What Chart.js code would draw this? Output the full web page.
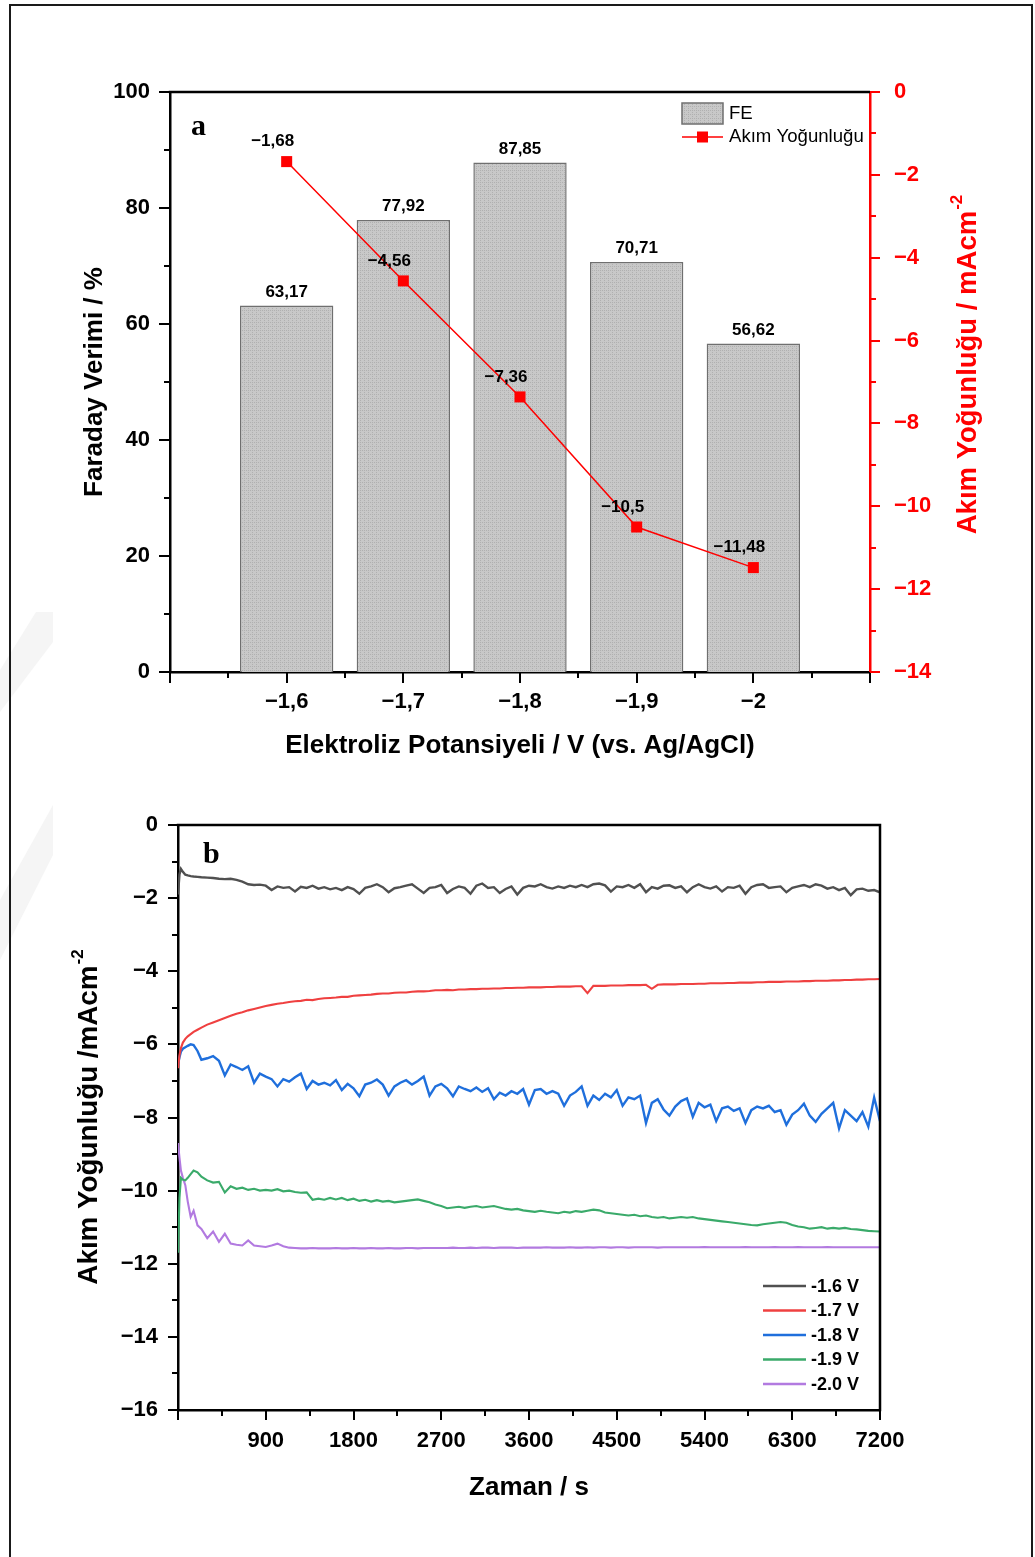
<!DOCTYPE html>
<html>
<head>
<meta charset="utf-8">
<title>Faraday verimi ve akım yoğunluğu</title>
<script src="https://cdn.jsdelivr.net/npm/chart.js@4.4.1/dist/chart.umd.min.js"></script>
<style>
  html, body { margin: 0; padding: 0; background: #fff; }
  body { width: 1035px; height: 1557px; position: relative; overflow: hidden; }
  #frame { position: absolute; left: 9px; top: 4px; width: 1020px; height: 1600px; border: 2px solid #1a1a1a; }
  #mark { position: absolute; left: 0; top: 600px; }
  canvas { position: absolute; left: 0; }
  #chartA { top: 0; }
  #chartB { top: 780px; }
</style>
</head>
<body>
<svg id="mark" width="60" height="380">
  <polygon points="36,12 53,12 53,42 0,112 0,70" fill="#f5f5f5"/>
  <polygon points="53,205 53,255 0,360 0,300" fill="#f5f5f5"/>
</svg>
<div id="frame"></div>
<canvas id="chartA" width="1035" height="780"></canvas>
<canvas id="chartB" width="1035" height="777"></canvas>

<script>
// ---- panel a: FE bars + current density line ----
const potentials = [-1.6, -1.7, -1.8, -1.9, -2.0];
const feValues = [63.17, 77.92, 87.85, 70.71, 56.62];
const jValues = [-1.68, -4.56, -7.36, -10.5, -11.48];

const aXTicks = [-1.5, -1.55, -1.6, -1.65, -1.7, -1.75, -1.8, -1.85, -1.9, -1.95, -2.0, -2.05, -2.1];
const aYTicks = [0, 10, 20, 30, 40, 50, 60, 70, 80, 90, 100];
const aY2Ticks = [0, -1, -2, -3, -4, -5, -6, -7, -8, -9, -10, -11, -12, -13, -14];

// ---- panel b: chronoamperometry ----
const seriesLabels = ['-1.6 V', '-1.7 V', '-1.8 V', '-1.9 V', '-2.0 V'];
const seriesColors = ['#505050', '#ef4040', '#1f6fdc', '#3aaa6a', '#b27ae0'];

const times = [
  0, 15, 30, 50, 75, 100, 130, 160, 200, 240,
  300, 360, 420, 480, 540, 600, 660, 720, 780, 840,
  900, 960, 1020, 1080, 1140, 1200, 1260, 1320, 1380, 1440,
  1500, 1560, 1620, 1680, 1740, 1800, 1860, 1920, 1980, 2040,
  2100, 2160, 2220, 2280, 2340, 2400, 2460, 2520, 2580, 2640,
  2700, 2760, 2820, 2880, 2940, 3000, 3060, 3120, 3180, 3240,
  3300, 3360, 3420, 3480, 3540, 3600, 3660, 3720, 3780, 3840,
  3900, 3960, 4020, 4080, 4140, 4200, 4260, 4320, 4380, 4440,
  4500, 4560, 4620, 4680, 4740, 4800, 4860, 4920, 4980, 5040,
  5100, 5160, 5220, 5280, 5340, 5400, 5460, 5520, 5580, 5640,
  5700, 5760, 5820, 5880, 5940, 6000, 6060, 6120, 6180, 6240,
  6300, 6360, 6420, 6480, 6540, 6600, 6660, 6720, 6780, 6840,
  6900, 6960, 7020, 7080, 7140, 7200
];

const j16 = [
  -1.90, -1.35, -1.20, -1.28, -1.36, -1.38, -1.40, -1.41, -1.42, -1.43,
  -1.44, -1.45, -1.47, -1.48, -1.47, -1.50, -1.55, -1.62, -1.64, -1.63,
  -1.66, -1.78, -1.68, -1.72, -1.70, -1.82, -1.69, -1.72, -1.66, -1.74,
  -1.70, -1.76, -1.72, -1.78, -1.70, -1.75, -1.88, -1.72, -1.68, -1.62,
  -1.70, -1.84, -1.73, -1.70, -1.66, -1.62, -1.74, -1.86, -1.72, -1.70,
  -1.64, -1.86, -1.75, -1.68, -1.72, -1.88, -1.66, -1.60, -1.72, -1.70,
  -1.86, -1.75, -1.68, -1.90, -1.72, -1.66, -1.68, -1.62, -1.70, -1.74,
  -1.68, -1.72, -1.66, -1.70, -1.64, -1.70, -1.62, -1.60, -1.65, -1.82,
  -1.68, -1.70, -1.64, -1.72, -1.62, -1.84, -1.70, -1.74, -1.66, -1.65,
  -1.72, -1.68, -1.84, -1.70, -1.62, -1.70, -1.74, -1.68, -1.82, -1.70,
  -1.72, -1.66, -1.88, -1.70, -1.64, -1.62, -1.72, -1.70, -1.68, -1.84,
  -1.72, -1.68, -1.64, -1.70, -1.62, -1.66, -1.74, -1.70, -1.78, -1.72,
  -1.92, -1.76, -1.74, -1.80, -1.78, -1.84
];

const j17 = [
  -6.65, -6.30, -6.10, -5.95, -5.85, -5.78, -5.72, -5.66, -5.60, -5.54,
  -5.46, -5.40, -5.34, -5.28, -5.22, -5.16, -5.12, -5.07, -5.03, -4.99,
  -4.95, -4.92, -4.89, -4.87, -4.84, -4.82, -4.81, -4.78, -4.79, -4.76,
  -4.74, -4.73, -4.72, -4.70, -4.70, -4.67, -4.66, -4.65, -4.64, -4.62,
  -4.61, -4.61, -4.59, -4.58, -4.58, -4.56, -4.55, -4.55, -4.54, -4.52,
  -4.52, -4.51, -4.52, -4.50, -4.50, -4.49, -4.49, -4.48, -4.48, -4.47,
  -4.47, -4.46, -4.46, -4.45, -4.45, -4.44, -4.44, -4.44, -4.43, -4.43,
  -4.42, -4.42, -4.42, -4.41, -4.41, -4.60, -4.40, -4.40, -4.40, -4.39,
  -4.39, -4.39, -4.38, -4.38, -4.38, -4.37, -4.48, -4.37, -4.36, -4.36,
  -4.36, -4.35, -4.35, -4.35, -4.34, -4.34, -4.33, -4.33, -4.33, -4.32,
  -4.32, -4.31, -4.31, -4.31, -4.30, -4.30, -4.29, -4.29, -4.29, -4.28,
  -4.28, -4.28, -4.27, -4.27, -4.26, -4.26, -4.26, -4.25, -4.25, -4.24,
  -4.24, -4.23, -4.23, -4.22, -4.22, -4.21
];

const j18 = [
  -6.55, -6.35, -6.20, -6.12, -6.08, -6.04, -6.00, -6.02, -6.18, -6.42,
  -6.38, -6.32, -6.45, -6.85, -6.55, -6.62, -6.70, -6.60, -7.05, -6.80,
  -6.88, -6.95, -7.15, -6.95, -7.02, -6.90, -6.80, -7.22, -7.00, -7.10,
  -7.05, -7.12, -6.98, -7.25, -7.08, -7.20, -7.42, -7.10, -7.05, -6.96,
  -7.10, -7.40, -7.15, -7.05, -6.98, -7.10, -7.00, -6.88, -7.40, -7.15,
  -7.08, -7.20, -7.42, -7.15, -7.22, -7.28, -7.18, -7.30, -7.20, -7.50,
  -7.32, -7.40, -7.28, -7.35, -7.22, -7.65, -7.25, -7.22, -7.35, -7.28,
  -7.35, -7.68, -7.40, -7.30, -7.15, -7.68, -7.40, -7.52, -7.35, -7.45,
  -7.25, -7.68, -7.45, -7.50, -7.40, -8.15, -7.60, -7.50, -7.78, -7.95,
  -7.70, -7.55, -7.48, -7.98, -7.60, -7.72, -7.65, -8.10, -7.75, -7.70,
  -7.82, -7.75, -8.15, -7.80, -7.70, -7.75, -7.68, -7.85, -7.80, -8.20,
  -7.92, -7.80, -7.62, -7.95, -8.12, -7.90, -7.75, -7.60, -8.30, -7.80,
  -7.95, -8.10, -7.85, -8.25, -7.45, -8.10
];

const j19 = [
  -11.70, -10.20, -9.65, -9.70, -9.72, -9.65, -9.55, -9.45, -9.50, -9.62,
  -9.72, -9.78, -9.76, -10.05, -9.88, -9.95, -9.92, -9.98, -9.95, -10.00,
  -9.98, -10.00, -9.96, -10.02, -10.00, -10.04, -10.06, -10.05, -10.25, -10.22,
  -10.25, -10.20, -10.24, -10.20, -10.26, -10.22, -10.28, -10.25, -10.30, -10.26,
  -10.30, -10.28, -10.32, -10.30, -10.28, -10.26, -10.24, -10.28, -10.32, -10.38,
  -10.42, -10.48, -10.46, -10.44, -10.47, -10.44, -10.42, -10.46, -10.44, -10.42,
  -10.46, -10.50, -10.52, -10.50, -10.54, -10.56, -10.58, -10.55, -10.58, -10.60,
  -10.62, -10.58, -10.60, -10.56, -10.58, -10.55, -10.52, -10.54, -10.60, -10.62,
  -10.64, -10.66, -10.68, -10.66, -10.70, -10.68, -10.72, -10.74, -10.72, -10.76,
  -10.74, -10.72, -10.74, -10.72, -10.76, -10.78, -10.80, -10.82, -10.84, -10.86,
  -10.88, -10.90, -10.92, -10.94, -10.95, -10.92, -10.90, -10.88, -10.86, -10.88,
  -10.94, -10.98, -11.00, -11.04, -11.02, -11.00, -11.04, -11.02, -11.04, -11.02,
  -11.05, -11.06, -11.08, -11.10, -11.11, -11.12
];

const j20 = [
  -8.70, -9.10, -9.45, -9.65, -9.85, -10.30, -10.72, -10.55, -10.95, -11.05,
  -11.30, -11.12, -11.40, -11.18, -11.45, -11.48, -11.50, -11.36, -11.50, -11.52,
  -11.54, -11.50, -11.45, -11.52, -11.56, -11.57, -11.58, -11.58, -11.57, -11.58,
  -11.58, -11.58, -11.57, -11.58, -11.58, -11.57, -11.58, -11.58, -11.57, -11.58,
  -11.58, -11.57, -11.58, -11.58, -11.57, -11.57, -11.58, -11.57, -11.57, -11.57,
  -11.57, -11.57, -11.56, -11.57, -11.57, -11.56, -11.57, -11.56, -11.56, -11.57,
  -11.56, -11.56, -11.56, -11.57, -11.56, -11.56, -11.56, -11.56, -11.55, -11.56,
  -11.56, -11.56, -11.55, -11.56, -11.56, -11.55, -11.56, -11.55, -11.55, -11.56,
  -11.55, -11.55, -11.56, -11.55, -11.55, -11.55, -11.55, -11.56, -11.55, -11.55,
  -11.55, -11.55, -11.55, -11.55, -11.55, -11.54, -11.55, -11.55, -11.55, -11.55,
  -11.55, -11.55, -11.54, -11.55, -11.55, -11.55, -11.55, -11.54, -11.55, -11.55,
  -11.55, -11.54, -11.55, -11.55, -11.55, -11.55, -11.54, -11.55, -11.55, -11.55,
  -11.55, -11.55, -11.55, -11.55, -11.55, -11.55
];

const seriesValues = [j16, j17, j18, j19, j20];
const bXTicks = [0, 450, 900, 1350, 1800, 2250, 2700, 3150, 3600, 4050, 4500, 4950, 5400, 5850, 6300, 6750, 7200];
const bYTicks = [0, -1, -2, -3, -4, -5, -6, -7, -8, -9, -10, -11, -12, -13, -14, -15, -16];

const FONT = "'Liberation Sans', Arial, Helvetica, sans-serif";
const SERIF = "'Liberation Serif', 'Times New Roman', serif";
const MINUS = '\u2212';

Chart.defaults.font.family = FONT;
Chart.defaults.color = '#000';

// decimal comma + true minus sign
function fmtValue(v) {
  const s = String(Math.abs(v)).replace('.', ',');
  return v < 0 ? MINUS + s : s;
}

function fmtTick(v) {
  const r = Math.round(v * 10) / 10;
  return fmtValue(r);
}

// dotted grey fill used for the FE bars
function makeBarPattern() {
  const c = document.createElement('canvas');
  c.width = 4; c.height = 4;
  const g = c.getContext('2d');
  g.fillStyle = '#c8c8c8';
  g.fillRect(0, 0, 4, 4);
  g.fillStyle = '#b0b0b0';
  g.fillRect(0, 0, 1, 1);
  g.fillRect(2, 2, 1, 1);
  g.fillRect(0, 2, 1, 1);
  return g.createPattern(c, 'repeat');
}

// outward tick marks, majors longer than minors
function tickMarks(ctx, scale, values, isMajor, major, minor, color, side) {
  ctx.save();
  ctx.strokeStyle = color;
  ctx.lineWidth = 2;
  ctx.beginPath();
  values.forEach(v => {
    const len = isMajor(v) ? major : minor;
    const p = Math.round(scale.getPixelForValue(v));
    if (side === 'bottom') {
      ctx.moveTo(p, scale.top); ctx.lineTo(p, scale.top + len);
    } else if (side === 'left') {
      ctx.moveTo(scale.right, p); ctx.lineTo(scale.right - len, p);
    } else {
      ctx.moveTo(scale.left, p); ctx.lineTo(scale.left + len, p);
    }
  });
  ctx.stroke();
  ctx.restore();
}

// vertical axis title reading bottom-to-top, with a raised exponent
function rotatedTitle(ctx, cx, cy, text, sup, color, size) {
  ctx.save();
  ctx.translate(cx, cy);
  ctx.rotate(-Math.PI / 2);
  ctx.fillStyle = color;
  ctx.textBaseline = 'middle';
  ctx.textAlign = 'left';
  const big = `bold ${size}px ${FONT}`;
  const small = `bold ${Math.round(size * 0.62)}px ${FONT}`;
  ctx.font = big;
  const w1 = ctx.measureText(text).width;
  ctx.font = small;
  const w2 = ctx.measureText(sup).width;
  const x0 = -(w1 + w2) / 2;
  ctx.font = big;
  ctx.fillText(text, x0, 0);
  ctx.font = small;
  ctx.fillText(sup, x0 + w1 + 1, -size * 0.38);
  ctx.restore();
}

const fePattern = makeBarPattern();

const panelA = {
  id: 'panelA',
  afterDatasetsDraw(chart) {
    const ctx = chart.ctx;
    ctx.save();
    ctx.fillStyle = '#000';
    ctx.textAlign = 'center';
    ctx.font = `bold 17px ${FONT}`;
    ctx.textBaseline = 'bottom';
    chart.getDatasetMeta(0).data.forEach((bar, i) => {
      ctx.fillText(fmtValue(feValues[i]), bar.x, bar.y - 5);
    });
    ctx.textBaseline = 'middle';
    chart.getDatasetMeta(1).data.forEach((pt, i) => {
      ctx.fillText(fmtValue(jValues[i]), pt.x - 14, pt.y - 20);
    });
    ctx.restore();
  },
  afterDraw(chart) {
    const { ctx, chartArea: a, scales } = chart;
    ctx.save();
    ctx.strokeStyle = '#000';
    ctx.lineWidth = 2.5;
    ctx.beginPath();
    ctx.moveTo(a.left - 1.25, a.top);
    ctx.lineTo(a.right, a.top);
    ctx.stroke();
    ctx.restore();

    tickMarks(ctx, scales.x, aXTicks, v => Math.abs(Math.round(v * 10) - v * 10) < 1e-6, 11, 6, '#000', 'bottom');
    tickMarks(ctx, scales.y, aYTicks, v => v % 20 === 0, 11, 6, '#000', 'left');
    tickMarks(ctx, scales.y2, aY2Ticks, v => v % 2 === 0, 10, 6, '#ff0000', 'right');

    ctx.save();
    ctx.fillStyle = '#000';
    ctx.font = `bold 30px ${SERIF}`;
    ctx.textAlign = 'left';
    ctx.textBaseline = 'alphabetic';
    ctx.fillText('a', a.left + 21, a.top + 43);

    // legend
    const lx = a.right - 188, ly = a.top + 11;
    ctx.fillStyle = fePattern;
    ctx.fillRect(lx, ly, 41, 21);
    ctx.strokeStyle = '#6f6f6f';
    ctx.lineWidth = 1.5;
    ctx.strokeRect(lx, ly, 41, 21);
    ctx.fillStyle = '#000';
    ctx.font = `18.6px ${FONT}`;
    ctx.textBaseline = 'middle';
    ctx.fillText(chart.data.datasets[0].label, lx + 47, ly + 11);
    ctx.strokeStyle = '#ff0000';
    ctx.beginPath();
    ctx.moveTo(lx, ly + 34);
    ctx.lineTo(lx + 41, ly + 34);
    ctx.stroke();
    ctx.fillStyle = '#ff0000';
    ctx.fillRect(lx + 15, ly + 28.5, 11, 11);
    ctx.fillStyle = '#000';
    ctx.fillText(chart.data.datasets[1].label, lx + 47, ly + 34);
    ctx.restore();

    rotatedTitle(ctx, scales.y2.right - 67, 365, 'Akım Yoğunluğu / mAcm', '-2', '#ff0000', 27.5);
  }
};

new Chart(document.getElementById('chartA'), {
  type: 'bar',
  data: {
    datasets: [
      {
        label: 'FE',
        data: potentials.map((p, i) => ({ x: p, y: feValues[i] })),
        backgroundColor: fePattern,
        borderColor: '#6f6f6f',
        borderWidth: 1.5,
        barPercentage: 0.8,
        categoryPercentage: 1,
        yAxisID: 'y',
        order: 2
      },
      {
        type: 'line',
        label: 'Akım Yoğunluğu',
        data: potentials.map((p, i) => ({ x: p, y: jValues[i] })),
        borderColor: '#ff0000',
        backgroundColor: '#ff0000',
        borderWidth: 1.5,
        pointStyle: 'rect',
        pointRadius: 7.8,
        pointBorderWidth: 0,
        yAxisID: 'y2',
        order: 1
      }
    ]
  },
  options: {
    responsive: false,
    animation: false,
    events: [],
    layout: { padding: { top: 92, left: 0, right: 0, bottom: 0 } },
    plugins: { legend: { display: false }, tooltip: { enabled: false } },
    scales: {
      x: {
        type: 'linear',
        reverse: true,
        min: -2.1,
        max: -1.5,
        offset: false,
        grid: { display: false, drawTicks: false },
        border: { display: true, color: '#000', width: 2.5 },
        ticks: {
          stepSize: 0.1,
          autoSkip: false,
          maxRotation: 0,
          padding: 17,
          color: '#000',
          font: { size: 22, weight: 'bold' },
          callback: v => (Math.abs(v + 1.5) < 1e-6 || Math.abs(v + 2.1) < 1e-6) ? '' : fmtTick(v)
        },
        title: {
          display: true,
          text: 'Elektroliz Potansiyeli / V (vs. Ag/AgCl)',
          color: '#000',
          font: { size: 26, weight: 'bold' },
          padding: { top: 0, bottom: 19 }
        },
        afterFit: s => { s.height = 108; }
      },
      y: {
        position: 'left',
        min: 0,
        max: 100,
        grid: { display: false, drawTicks: false },
        border: { display: true, color: '#000', width: 2.5 },
        ticks: { stepSize: 20, padding: 20, color: '#000', font: { size: 22, weight: 'bold' } },
        title: {
          display: true,
          text: 'Faraday Verimi / %',
          color: '#000',
          font: { size: 26, weight: 'bold' },
          padding: { top: 79, bottom: 0 }
        },
        afterFit: s => { s.width = 170; }
      },
      y2: {
        position: 'right',
        min: -14,
        max: 0,
        grid: { display: false, drawTicks: false },
        border: { display: true, color: '#ff0000', width: 2.5 },
        ticks: {
          stepSize: 2,
          padding: 24,
          color: '#ff0000',
          font: { size: 22, weight: 'bold' },
          callback: v => fmtValue(v)
        },
        afterFit: s => { s.width = 165; }
      }
    }
  },
  plugins: [panelA]
});

const panelB = {
  id: 'panelB',
  afterDraw(chart) {
    const { ctx, chartArea: a, scales } = chart;
    ctx.save();
    ctx.strokeStyle = '#000';
    ctx.lineWidth = 2.5;
    ctx.beginPath();
    ctx.moveTo(a.left - 1.25, a.top);
    ctx.lineTo(a.right, a.top);
    ctx.lineTo(a.right, a.bottom + 1.25);
    ctx.stroke();
    ctx.restore();

    tickMarks(ctx, scales.x, bXTicks, v => v % 900 === 0, 10, 6, '#000', 'bottom');
    tickMarks(ctx, scales.y, bYTicks, v => v % 2 === 0, 10, 6, '#000', 'left');

    ctx.save();
    ctx.fillStyle = '#000';
    ctx.font = `bold 30px ${SERIF}`;
    ctx.textAlign = 'left';
    ctx.textBaseline = 'alphabetic';
    ctx.fillText('b', a.left + 25, a.top + 38);

    // legend, bottom right of the plot
    const lx = a.right - 117, ly = a.bottom - 124;
    ctx.font = `bold 18px ${FONT}`;
    ctx.textBaseline = 'middle';
    chart.data.datasets.forEach((ds, i) => {
      const y = ly + i * 24.5;
      ctx.strokeStyle = ds.borderColor;
      ctx.lineWidth = 2.5;
      ctx.beginPath();
      ctx.moveTo(lx, y);
      ctx.lineTo(lx + 43, y);
      ctx.stroke();
      ctx.fillStyle = '#000';
      ctx.fillText(ds.label, lx + 48, y + 1);
    });
    ctx.restore();

    rotatedTitle(ctx, 89, (a.top + a.bottom) / 2, 'Akım Yoğunluğu /mAcm', '-2', '#000', 27.8);
  }
};

new Chart(document.getElementById('chartB'), {
  type: 'line',
  data: {
    datasets: seriesValues.map((vals, k) => ({
      label: seriesLabels[k],
      data: times.map((t, i) => ({ x: t, y: vals[i] })),
      borderColor: seriesColors[k],
      backgroundColor: seriesColors[k],
      borderWidth: (k === 0 || k === 2) ? 2.4 : 2.1,
      pointRadius: 0,
      tension: 0
    }))
  },
  options: {
    responsive: false,
    animation: false,
    events: [],
    layout: { padding: { top: 45, right: 155, left: 0, bottom: 0 } },
    plugins: { legend: { display: false }, tooltip: { enabled: false } },
    scales: {
      x: {
        type: 'linear',
        min: 0,
        max: 7200,
        grid: { display: false, drawTicks: false },
        border: { display: true, color: '#000', width: 2.5 },
        ticks: {
          stepSize: 900,
          autoSkip: false,
          maxRotation: 0,
          padding: 18,
          color: '#000',
          font: { size: 22, weight: 'bold' },
          callback: v => v === 0 ? '' : String(v)
        },
        title: {
          display: true,
          text: 'Zaman / s',
          color: '#000',
          font: { size: 26, weight: 'bold' },
          padding: { top: 0, bottom: 54 }
        },
        afterFit: s => { s.height = 147; }
      },
      y: {
        min: -16,
        max: 0,
        grid: { display: false, drawTicks: false },
        border: { display: true, color: '#000', width: 2.5 },
        ticks: {
          stepSize: 2,
          padding: 20,
          color: '#000',
          font: { size: 22, weight: 'bold' },
          callback: v => fmtValue(v)
        },
        afterFit: s => { s.width = 178; }
      }
    }
  },
  plugins: [panelB]
});
</script>
</body>
</html>
